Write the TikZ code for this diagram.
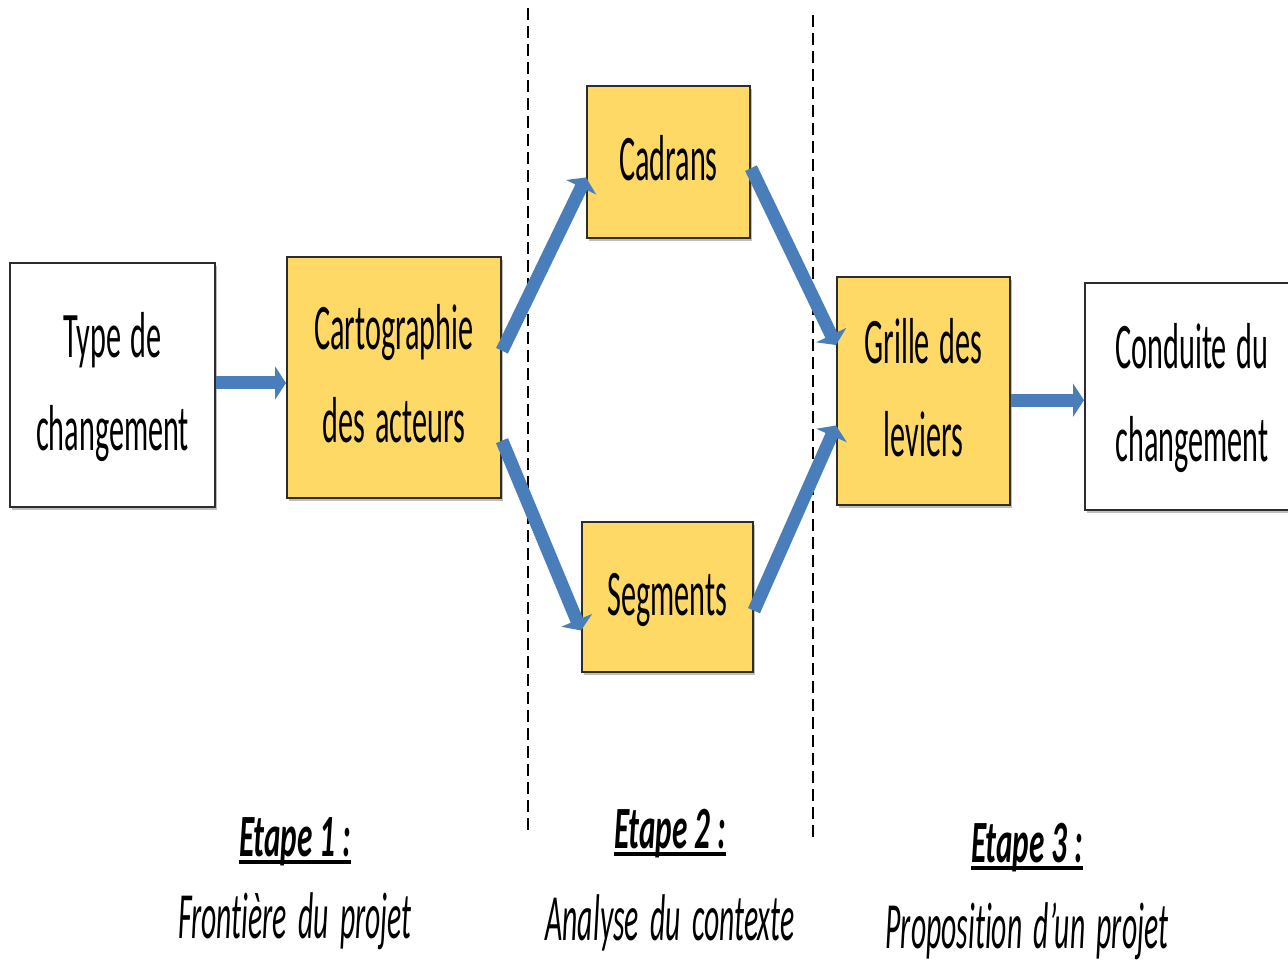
\documentclass[tikz,border=0pt]{standalone}
\usepackage{fontspec}
\setmainfont{Carlito}[Ligatures=NoCommon]
\usetikzlibrary{arrows.meta,calc,shadows}

\definecolor{boxgold}{RGB}{255,217,102}
\definecolor{boxedge}{RGB}{45,45,45}
\definecolor{flowblue}{RGB}{74,126,187}

% condensed multi-line label with slightly wider word spaces
\newcommand\sqz[2]{\scalebox{#1}[1]{\spaceskip=0.32em\relax\begin{tabular}{@{}c@{}}#2\end{tabular}}}
% condensed single-line caption
\newcommand\captxt[2]{\scalebox{#1}[1]{\spaceskip=0.38em\relax #2}}
% heavy underline
\newcommand\hul[1]{\setbox0\hbox{#1}\rlap{\rule[-8pt]{\wd0}{4pt}}\box0}

\tikzset{
  box/.style={draw=boxedge, line width=2pt, inner sep=0pt,
    font=\fontsize{65}{93}\selectfont,
    drop shadow={shadow xshift=1.5pt, shadow yshift=-3pt, fill=black!55, opacity=0.45}},
  goldbox/.style={box, fill=boxgold},
  whitebox/.style={box, fill=white},
  flow/.style={draw=flowblue, line width=13pt,
    -{Triangle[length=11pt,width=33pt]}},
  divider/.style={line width=1.8pt, dash pattern=on 12pt off 6pt},
  steptitle/.style={anchor=base, font=\fontsize{60}{70}\selectfont\bfseries\itshape},
  stepsub/.style={anchor=base, font=\fontsize{66}{76}\selectfont\itshape},
}

\begin{document}
\begin{tikzpicture}[x=1pt, y=-1pt]
\useasboundingbox (0,0) rectangle (1288,965);
\clip (0,0) rectangle (1288,965);
\fill[white] (0,0) rectangle (1288,965);

% stage separators
\coordinate (d1top) at (528,8);
\coordinate (d1bot) at (528,832);
\coordinate (d2top) at (813,15);
\coordinate (d2bot) at (813,840);

% boxes
\node[whitebox, minimum width=205pt, minimum height=243pt] (type) at (112.5,385)
  {\sqz{0.465}{Type de\\changement}};
\node[goldbox, minimum width=214pt, minimum height=241pt] (carto) at (394,377.5)
  {\sqz{0.465}{Cartographie\\des acteurs}};
\node[goldbox, minimum width=163pt, minimum height=152pt] (cadrans) at (668.5,162)
  {\sqz{0.465}{Cadrans}};
\node[goldbox, minimum width=171pt, minimum height=150pt] (segments) at (667.5,597)
  {\sqz{0.465}{Segments}};
\node[goldbox, minimum width=173pt, minimum height=228pt] (grille) at (923.5,391)
  {\sqz{0.465}{Grille des\\leviers}};
\node[whitebox, minimum width=214pt, minimum height=227pt] (conduite) at (1192,396.5)
  {\sqz{0.465}{Conduite du\\changement}};

% dashed separators
\draw[divider] (d1top) -- (d1bot);
\draw[divider] (d2top) -- (d2bot);

% flows
\draw[flow] (type.east |- 0,383) -- (carto.west |- 0,383);
\draw[flow] ($(carto.north east)!0.39!(carto.south east)$) -- ($(cadrans.north west)!0.6!(cadrans.south west)$);
\draw[flow] ($(carto.north east)!0.76!(carto.south east)$) -- ($(segments.north west)!0.72!(segments.south west)$);
\draw[flow] ($(cadrans.north east)!0.54!(cadrans.south east)$) -- ($(grille.north west)!0.3!(grille.south west)$);
\draw[flow] ($(segments.north east)!0.59!(segments.south east)$) -- ($(grille.north west)!0.65!(grille.south west)$);
\coordinate (gout) at ($(grille.north east)!0.54!(grille.south east)$);
\draw[flow] (gout) -- (gout -| conduite.west);

% stage captions
\node[steptitle] (e1) at (295,856) {\scalebox{0.52}[1]{\hul{Etape 1 :}}};
\node[stepsub]   (s1) at (295,938) {\captxt{0.45}{Frontière du projet}};
\node[steptitle] (e2) at (670,848) {\scalebox{0.52}[1]{\hul{Etape 2 :}}};
\node[stepsub]   (s2) at (670,940) {\captxt{0.45}{Analyse du contexte}};
\node[steptitle] (e3) at (1027,862) {\scalebox{0.52}[1]{\hul{Etape 3 :}}};
\node[stepsub]   (s3) at (1027,948) {\captxt{0.45}{Proposition d’un projet}};
\end{tikzpicture}
\end{document}
